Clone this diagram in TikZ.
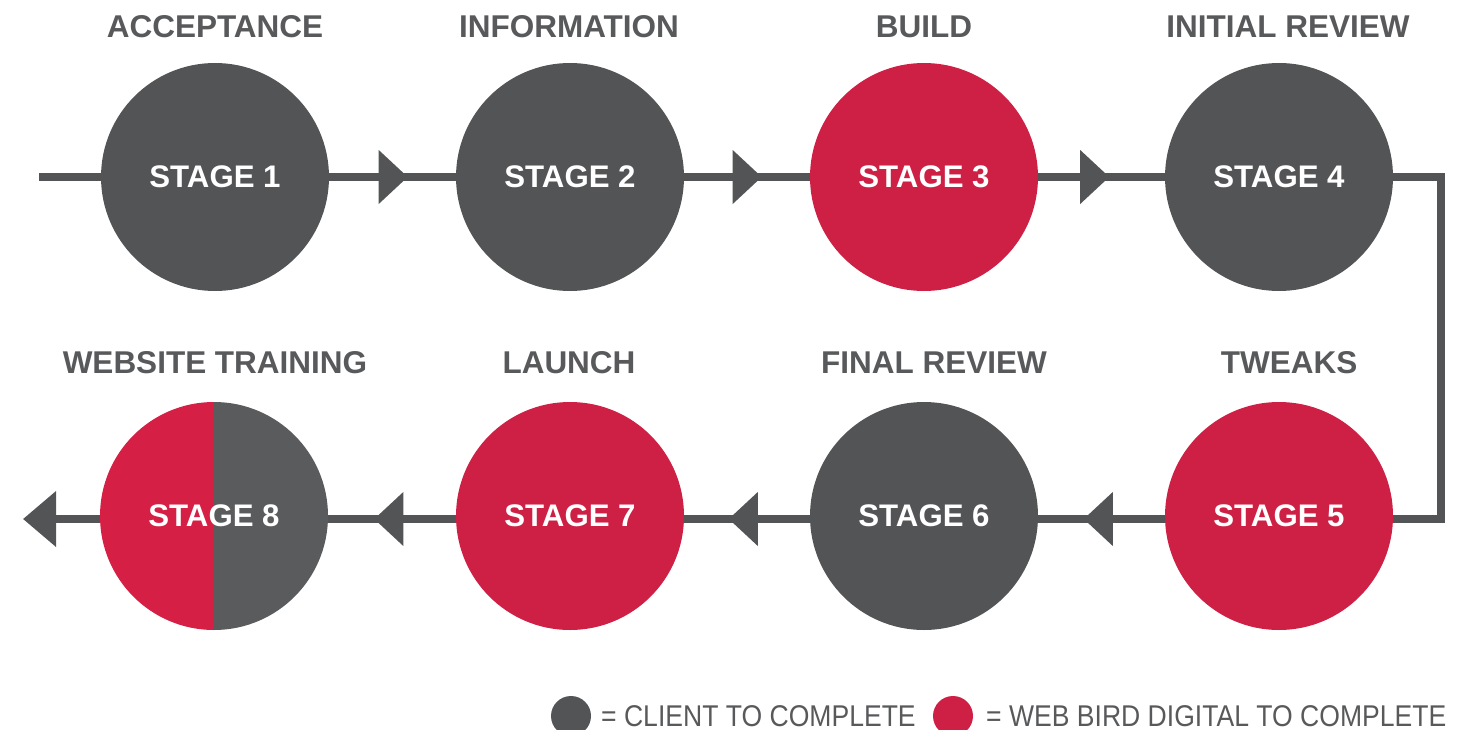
\documentclass[tikz,border=0pt]{standalone}
\usepackage{fontspec}
\setmainfont{Liberation Sans}
\usepackage{graphicx}
\usetikzlibrary{arrows.meta,decorations.markings,backgrounds}
\definecolor{cgray}{RGB}{83,84,86}
\definecolor{cred}{RGB}{206,32,69}
\definecolor{tgray}{RGB}{88,89,91}
\definecolor{gray8}{RGB}{90,91,93}
\definecolor{red8}{RGB}{214,31,69}
\begin{document}
\begin{tikzpicture}[x=1pt,y=1pt,
 stagebox/.style={circle, minimum size=228pt, inner sep=0pt, text=white, font=\fontsize{31.2}{31.2}\selectfont\bfseries},
 titlebox/.style={anchor=base, text=tgray, inner sep=0pt, font=\fontsize{31.5}{31.5}\selectfont\bfseries},
 conn/.style={draw=cgray, line width=7.5pt, line join=miter},
 midarrow/.style={postaction={decorate, decoration={markings, mark=at position #1 with {\fill[cgray] (-14.5,-27) -- (14.5,0) -- (-14.5,27) -- cycle;}}}},
 legtext/.style={anchor=base west, inner sep=0pt, text=tgray, font=\fontsize{30}{30}\selectfont},
 legdot/.style={circle, minimum size=40pt, inner sep=0pt}
]
\path[use as bounding box] (0,0) rectangle (1471,-730);

% row 1
\node[stagebox, fill=cgray] (s1) at (215,-177) {STAGE 1};
\node[stagebox, fill=cgray] (s2) at (570,-177) {STAGE 2};
\node[stagebox, fill=cred]  (s3) at (924,-177) {STAGE 3};
\node[stagebox, fill=cgray] (s4) at (1279,-177) {STAGE 4};
% row 2
\node[stagebox, fill=cred]  (s5) at (1279,-516) {STAGE 5};
\node[stagebox, fill=cgray] (s6) at (924,-516) {STAGE 6};
\node[stagebox, fill=cred]  (s7) at (570,-516) {STAGE 7};
\begin{scope}
\clip (90,-390) rectangle (214,-640);
\fill[red8] (214,-516) circle (114);
\end{scope}
\begin{scope}
\clip (214,-390) rectangle (340,-640);
\fill[gray8] (214,-516) circle (114);
\end{scope}
\node[stagebox] (s8) at (214,-516) {STAGE 8};

% titles
\node[titlebox] (t1) at (215,-38) {ACCEPTANCE};
\node[titlebox] (t2) at (569,-38) {INFORMATION};
\node[titlebox] (t3) at (924,-38) {BUILD};
\node[titlebox] (t4) at (1288,-38) {INITIAL REVIEW};
\node[titlebox] (t8) at (215,-373) {WEBSITE TRAINING};
\node[titlebox] (t7) at (569,-373) {LAUNCH};
\node[titlebox] (t6) at (934,-373) {FINAL REVIEW};
\node[titlebox] (t5) at (1289,-373) {TWEAKS};

% legend
\node[legdot, fill=cgray] (l1) at (571,-716) {};
\node[legtext] (lt1) at (601,-726) {\scalebox{0.885}[1]{= CLIENT TO COMPLETE}};
\node[legdot, fill=cred] (l2) at (953,-716) {};
\node[legtext] (lt2) at (986,-726) {\scalebox{0.885}[1]{= WEB BIRD DIGITAL TO COMPLETE}};

% connectors
\coordinate (start) at (39,-177);
\coordinate (c1) at (1441,-177);
\coordinate (c2) at (1441,-519);
\coordinate (fin) at (23,-519);
\begin{pgfonlayer}{background}
\draw[conn] (start) -- (s1.west);
\draw[conn, midarrow=64pt] (s1.east) -- (s2.west);
\draw[conn, midarrow=63pt] (s2.east) -- (s3.west);
\draw[conn, midarrow=56.5pt] (s3.east) -- (s4.west);
\draw[conn] (s4.east) -- (c1) -- (c2) -- ([yshift=-3pt]s5.east);
\draw[conn, midarrow=66.5pt] ([yshift=-3pt]s5.west) -- ([yshift=-3pt]s6.east);
\draw[conn, midarrow=66.5pt] ([yshift=-3pt]s6.west) -- ([yshift=-3pt]s7.east);
\draw[conn, midarrow=67pt] ([yshift=-3pt]s7.west) -- ([yshift=-3pt]s8.east);
\draw[conn, -{Triangle[length=33pt,width=54pt]}, cgray] ([yshift=-3pt]s8.west) -- (fin);
\end{pgfonlayer}
\end{tikzpicture}
\end{document}
